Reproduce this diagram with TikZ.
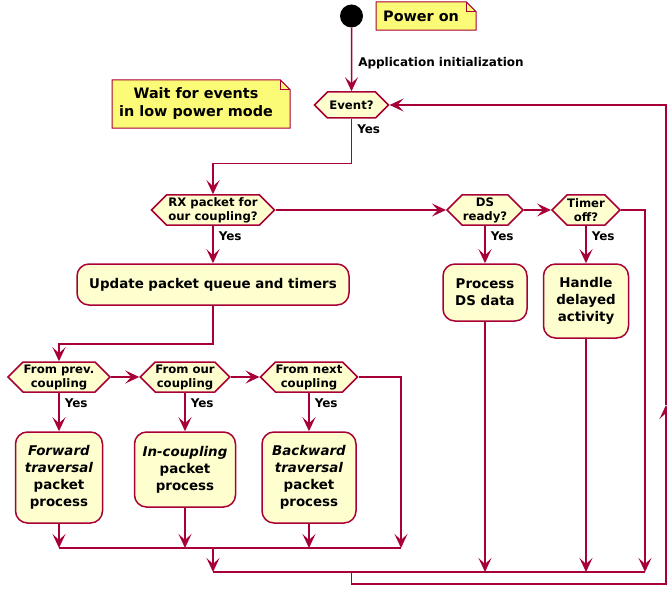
\documentclass[tikz,border=0pt]{standalone}
\usepackage{fontspec}
\setmainfont{DejaVu Sans}
\usetikzlibrary{arrows.meta,shapes.symbols}
\definecolor{umlline}{HTML}{A80036}
\definecolor{umlfill}{HTML}{FEFECE}
\definecolor{umlnote}{HTML}{FBFB77}
\pgfdeclarelayer{back}
\pgfsetlayers{back,main}

\begin{document}
\begin{tikzpicture}[x=1pt, y=-1pt,
    every node/.style = {text=black},
    action/.style = {rectangle, rounded corners=12pt, draw=umlline, fill=umlfill,
      line width=1.5pt, align=center, inner sep=0pt,
      font=\fontsize{13.4}{17}\selectfont\bfseries},
    decision/.style = {signal, signal to=west and east, signal pointer angle=90,
      draw=umlline, fill=umlfill, line width=1.5pt, align=center, inner sep=0pt,
      minimum height=30pt, font=\fontsize{11.7}{14}\selectfont\bfseries},
    notebox/.style = {anchor=west, inner xsep=7pt, inner ysep=0pt, align=center,
      font=\fontsize{14.4}{18}\selectfont\bfseries},
    notefold/.style = {draw=umlline, fill=umlnote, line width=1pt},
    flow/.style = {draw=umlline, line width=1.5pt,
      -{Stealth[length=14pt, width=13pt, inset=6pt]}},
    wire/.style = {draw=umlline, line width=1.5pt},
    yes/.style = {anchor=north west, inner sep=0pt, xshift=5pt, yshift=-5pt,
      font=\fontsize{12}{14}\selectfont\bfseries},
    edgetext/.style = {anchor=west, inner sep=0pt, xshift=6pt, yshift=-4pt,
      font=\fontsize{12}{14}\selectfont\bfseries}]
  \useasboundingbox (0,0) rectangle (667,591);

  % start and notes
  \node[circle, fill=black, minimum size=23pt, inner sep=0pt] (start) at (351.5,16) {};
  \node[notebox, minimum height=28pt] (poweron) at (376,16) {Power on};
  \node[notebox, minimum height=48pt] (waitnote) at (112,104) {Wait for events\\in low power mode};
  \begin{pgfonlayer}{back}
    \foreach \n in {poweron, waitnote} {
      \draw[notefold] (\n.south west) -- (\n.north west) -- (\n.north east)
        -- ([xshift=10pt, yshift=-10pt]\n.north east) -- ([xshift=10pt]\n.south east) -- cycle;
      \draw[notefold, fill=none] (\n.north east) -- ([yshift=-10pt]\n.north east)
        -- ([xshift=10pt, yshift=-10pt]\n.north east);
    }
  \end{pgfonlayer}

  % decisions
  \node[decision, minimum width=74pt, minimum height=26pt] (event) at (351.5,105) {Event?};
  \node[decision, minimum width=123pt] (rx) at (213,210) {RX packet for\\our coupling?};
  \node[decision, minimum width=76pt] (ds) at (485,210) {DS\\ready?};
  \node[decision, minimum width=68pt] (timer) at (586,210) {Timer\\off?};
  \node[decision, minimum width=102pt] (prev) at (59,377) {From prev.\\coupling};
  \node[decision, minimum width=89pt] (ours) at (185,377) {From our\\coupling};
  \node[decision, minimum width=97pt] (next) at (309,377) {From next\\coupling};

  % activities
  \node[action, minimum width=272pt, minimum height=41pt] (update) at (213,284.5) {Update packet queue and timers};
  \node[action, minimum width=84pt, minimum height=57pt] (dsdata) at (485,292.5) {Process\\DS data};
  \node[action, minimum width=85pt, minimum height=74pt] (delayed) at (586,301) {Handle\\delayed\\activity};
  \node[action, minimum width=87pt, minimum height=91pt] (fwd) at (59,477.5) {\textit{Forward}\\\textit{traversal}\\packet\\process};
  \node[action, minimum width=101pt, minimum height=75pt] (inc) at (185,469.5) {\textit{In-coupling}\\packet\\process};
  \node[action, minimum width=94pt, minimum height=91pt] (bwd) at (309,477.5) {\textit{Backward}\\\textit{traversal}\\packet\\process};

  % join points
  \coordinate (join1) at (213,548);
  \coordinate (join2) at (213,572);
  \coordinate (skip1) at (401,377);
  \coordinate (skip2) at (645,210);
  \coordinate (loop) at (666,584);
  \coordinate (up) at (666,405);

  % flow
  \draw[flow] (start) -- node[edgetext] {Application initialization} (event);
  \draw[flow] (event.south) node[yes] {Yes} -- ++(0,45) -| (rx.north);
  \draw[flow] (rx.east) -- (ds.west);
  \draw[flow] (ds.east) -- (timer.west);
  \draw[flow] (rx.south) node[yes] {Yes} -- (update.north);
  \draw[flow] (ds.south) node[yes] {Yes} -- (dsdata.north);
  \draw[flow] (timer.south) node[yes] {Yes} -- (delayed.north);
  \draw[flow] (update.south) -- ++(0,38) -| (prev.north);
  \draw[flow] (prev.east) -- (ours.west);
  \draw[flow] (ours.east) -- (next.west);
  \foreach \d/\a in {prev/fwd, ours/inc, next/bwd}
    \draw[flow] (\d.south) node[yes] {Yes} -- (\a.north);

  \foreach \a in {fwd, inc, bwd}
    \draw[flow] (\a.south) -- (\a |- join1);
  \draw[flow] (next.east) -- (skip1) -- (skip1 |- join1);
  \draw[wire] (fwd |- join1) -- (skip1 |- join1);
  \draw[flow] (join1) -- (join2);
  \foreach \a in {dsdata, delayed}
    \draw[flow] (\a.south) -- (\a |- join2);
  \draw[flow] (timer.east) -- (skip2) -- (skip2 |- join2);
  \draw[wire] (join2) -- (skip2 |- join2);
  \draw[flow] (event |- join2) -- (event |- loop) -- (loop) -- (up);
  \draw[flow] (up) -- (up |- event) -- (event.east);
\end{tikzpicture}
\end{document}
